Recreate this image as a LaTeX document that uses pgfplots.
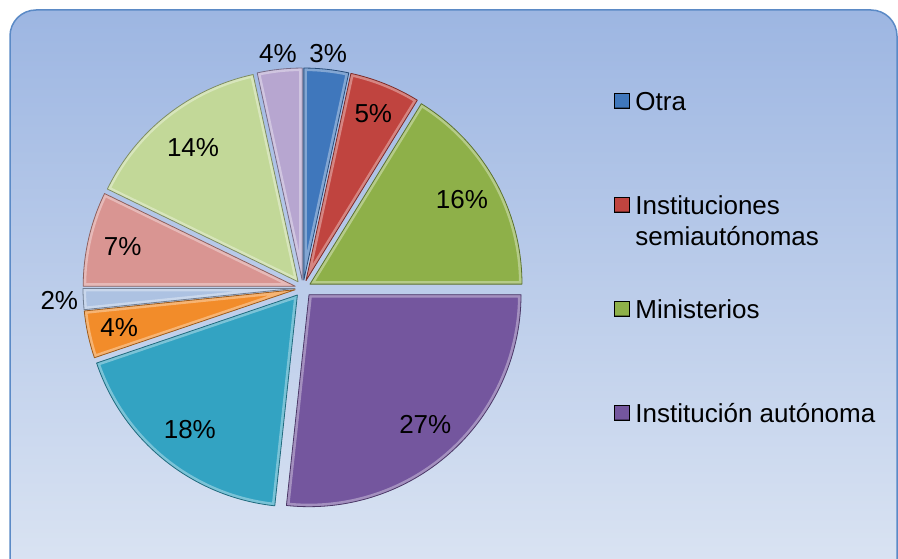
\documentclass[border=0pt]{standalone}
\usepackage{pgfplots}
\pgfplotsset{compat=1.18}
\usepackage{pgfplotstable}
\usepackage{fontspec}
\setmainfont{Liberation Sans}

\definecolor{col0}{HTML}{3F77BC}
\definecolor{col1}{HTML}{C0443F}
\definecolor{col2}{HTML}{8EB049}
\definecolor{col3}{HTML}{74569E}
\definecolor{col4}{HTML}{33A3C2}
\definecolor{col5}{HTML}{F28C2A}
\definecolor{col6}{HTML}{ADC2E2}
\definecolor{col7}{HTML}{D99592}
\definecolor{col8}{HTML}{C2D898}
\definecolor{col9}{HTML}{B7A6D0}
\definecolor{bgtop}{HTML}{9DB6E2}
\definecolor{bgbot}{HTML}{DCE5F3}
\definecolor{framec}{HTML}{5B8AC6}

\newcommand\lbfont{\fontsize{26}{31}\selectfont}

% val = share of the whole (%), lab = printed label, ex = explode offset, lr = label radius
\pgfplotstableread{
val  lab ex lr
3.4  3   8  236
5.4  5   8  188
16.2 16  8  182
26.7 27  9  183
18.1 18  9  181
3.6  4   8  188
1.6  2   8  244
7.2  7   8  185
14.4 14  8  178
3.4  4   8  236
}\piedata

\gdef\piecum{0}
\pgfplotsinvokeforeach{0,...,9}{%
  \pgfplotstablegetelem{#1}{val}\of\piedata
  \let\pv\pgfplotsretval
  \pgfmathsetmacro\psa{90-3.6*\piecum}%
  \pgfmathsetmacro\pea{90-3.6*(\piecum+\pv)}%
  \pgfmathsetmacro\pma{(\psa+\pea)/2}%
  \pgfmathsetmacro\pnc{\piecum+\pv}%
  \expandafter\xdef\csname sa#1\endcsname{\psa}%
  \expandafter\xdef\csname ea#1\endcsname{\pea}%
  \expandafter\xdef\csname ma#1\endcsname{\pma}%
  \xdef\piecum{\pnc}%
  \pgfplotstablegetelem{#1}{lab}\of\piedata
  \expandafter\xdef\csname lab#1\endcsname{\pgfplotsretval}%
  \pgfplotstablegetelem{#1}{ex}\of\piedata
  \expandafter\xdef\csname ex#1\endcsname{\pgfplotsretval}%
  \pgfplotstablegetelem{#1}{lr}\of\piedata
  \expandafter\xdef\csname lr#1\endcsname{\pgfplotsretval}%
}

\newcommand\slicepath[1]{([shift={(\csname ma#1\endcsname:\csname ex#1\endcsname pt)}]axis cs:303,270) -- ++(\csname sa#1\endcsname:212pt) arc[start angle=\csname sa#1\endcsname, end angle=\csname ea#1\endcsname, radius=212pt] -- cycle}

\pgfplotsset{
  sqleg/.style={legend image code/.code={%
    \fill[##1] (0pt,-7.5pt) rectangle (15pt,7.5pt);
    \draw[##1, fill=none, draw=black, draw opacity=0.35, line width=0.6pt] (0.3pt,-7.2pt) rectangle (14.7pt,7.2pt);}}
}
\tikzset{legtxt/.style={text height=50pt, text depth=31pt, inner sep=0pt},
         legtxttwo/.style={text height=81pt, text depth=0pt, inner sep=0pt, align=left}}

\begin{document}
\begin{tikzpicture}
\useasboundingbox (0,0) rectangle (898pt,558pt);
\begin{scope}
\clip (0,0) rectangle (898pt,558pt);
\shadedraw[top color=bgtop, bottom color=bgbot, draw=framec, line width=1.5pt, rounded corners=26pt] (10pt,-30pt) rectangle (897pt,548pt);
\end{scope}
\begin{axis}[
  at={(0pt,0pt)}, anchor=south west,
  width=898pt, height=558pt, scale only axis,
  xmin=0, xmax=898, ymin=0, ymax=558,
  hide axis, clip=false,
  legend style={at={(axis cs:614,498)}, anchor=north west, draw=none, fill=none,
    inner sep=0pt, outer sep=0pt, row sep=23pt, column sep=6pt, font=\lbfont},
  legend cell align=left,
]
\pgfplotsinvokeforeach{0,...,9}{
  \fill[col#1, path picture={\draw[white, opacity=0.35, line width=6pt] \slicepath{#1};}] \slicepath{#1};
  \draw[col#1!65!black, line width=0.8pt, line join=round] \slicepath{#1};
  \node[font=\lbfont] at ([shift={(\csname ma#1\endcsname:\csname lr#1\endcsname pt)}]axis cs:303,270) {\csname lab#1\endcsname\%};
}
\addlegendimage{sqleg, fill=col0}
\addlegendentry[legtxt]{Otra}
\addlegendimage{sqleg, fill=col1}
\addlegendentry[legtxttwo]{Instituciones\\semiautónomas}
\addlegendimage{sqleg, fill=col2}
\addlegendentry[legtxt]{Ministerios}
\addlegendimage{sqleg, fill=col3}
\addlegendentry[legtxt]{Institución autónoma}
\end{axis}
\end{tikzpicture}
\end{document}
